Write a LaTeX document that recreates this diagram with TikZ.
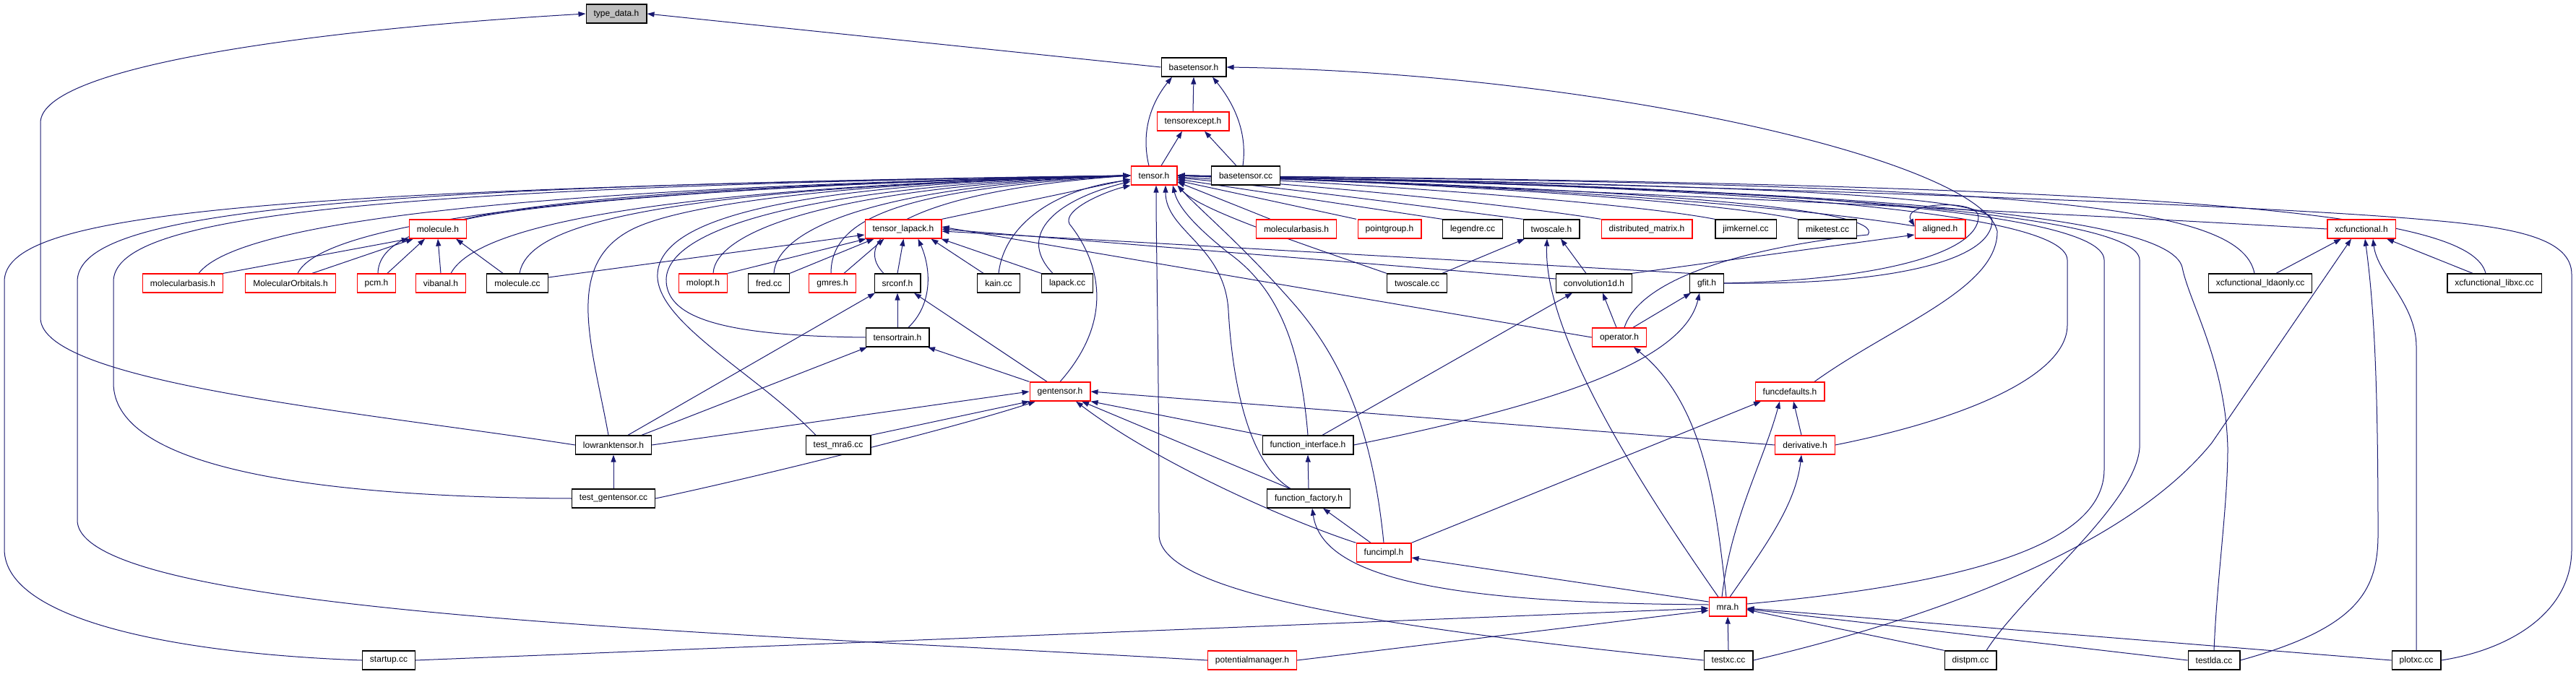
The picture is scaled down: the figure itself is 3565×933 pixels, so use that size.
\documentclass[tikz,border=0pt]{standalone}
\usepackage{fontspec}
\setmainfont{Liberation Sans}
\usetikzlibrary{arrows.meta}
\definecolor{edgeblue}{RGB}{25,25,112}
\definecolor{rootgray}{RGB}{191,191,191}
\pgfdeclarelayer{edges}
\pgfsetlayers{edges,main}
\begin{document}
\begin{tikzpicture}[x=1pt, y=-1pt, font=\fontsize{12}{14}\selectfont,
    >={Triangle[length=10pt,width=7pt]},
    hfile/.style={draw, fill=white, line width=1.3pt, inner xsep=10.5pt, inner ysep=0pt, minimum height=26pt},
    hdr/.style={hfile, draw=black},
    hdrred/.style={hfile, draw=red},
    hdrroot/.style={hfile, draw=black, fill=rootgray},
    dep/.style={->, draw=edgeblue, line width=1pt}]
  \useasboundingbox (0,0) rectangle (3565,933);
  \node[hdrroot] (tdata) at (853,19) {type\_data.h};
  \node[hdr] (btensh) at (1652,93) {basetensor.h};
  \node[hdrred] (texcept) at (1651,168) {tensorexcept.h};
  \node[hdrred] (tensh) at (1597,243) {tensor.h};
  \node[hdr] (btenscc) at (1724,243) {basetensor.cc};
  \node[hdrred] (molech) at (606,317) {molecule.h};
  \node[hdrred] (tlapack) at (1250,317) {tensor\_lapack.h};
  \node[hdrred] (molbasr) at (1794,317) {molecularbasis.h};
  \node[hdrred] (pgroup) at (1923,317) {pointgroup.h};
  \node[hdr] (legendre) at (2038,317) {legendre.cc};
  \node[hdr] (twoscaleh) at (2147,317) {twoscale.h};
  \node[hdrred] (distmat) at (2279,317) {distributed\_matrix.h};
  \node[hdr] (jimkern) at (2416,317) {jimkernel.cc};
  \node[hdr] (miketest) at (2529,317) {miketest.cc};
  \node[hdrred] (aligned) at (2685,317) {aligned.h};
  \node[hdrred] (xcfunc) at (3268,317) {xcfunctional.h};
  \node[hdrred] (molbasl) at (253,392) {molecularbasis.h};
  \node[hdrred] (molorb) at (402,392) {MolecularOrbitals.h};
  \node[hdrred] (pcm) at (521,392) {pcm.h};
  \node[hdrred] (vibanal) at (610,392) {vibanal.h};
  \node[hdr] (molecc) at (716,392) {molecule.cc};
  \node[hdrred] (molopt) at (973,392) {molopt.h};
  \node[hdr] (fred) at (1064,392) {fred.cc};
  \node[hdrred] (gmres) at (1152,392) {gmres.h};
  \node[hdr] (srconf) at (1242,392) {srconf.h};
  \node[hdr] (kain) at (1382,392) {kain.cc};
  \node[hdr] (lapackcc) at (1477,392) {lapack.cc};
  \node[hdr] (twoscalecc) at (1961,392) {twoscale.cc};
  \node[hdr] (conv1d) at (2206,392) {convolution1d.h};
  \node[hdr] (gfit) at (2362,392) {gfit.h};
  \node[hdr] (xclda) at (3128,392) {xcfunctional\_ldaonly.cc};
  \node[hdr] (xclibxc) at (3452,392) {xcfunctional\_libxc.cc};
  \node[hdr] (ttrain) at (1242,467) {tensortrain.h};
  \node[hdrred] (oper) at (2241,467) {operator.h};
  \node[hdrred] (gentens) at (1467,542) {gentensor.h};
  \node[hdrred] (funcdef) at (2477,542) {funcdefaults.h};
  \node[hdr] (lowrank) at (849,616) {lowranktensor.h};
  \node[hdr] (testmra) at (1160,616) {test\_mra6.cc};
  \node[hdr] (funcint) at (1810,616) {function\_interface.h};
  \node[hdrred] (deriv) at (2498,616) {derivative.h};
  \node[hdr] (testgen) at (849,690) {test\_gentensor.cc};
  \node[hdr] (funcfact) at (1811,690) {function\_factory.h};
  \node[hdrred] (funcimpl) at (1915,765) {funcimpl.h};
  \node[hdrred] (mrah) at (2391,840) {mra.h};
  \node[hdr] (startup) at (538,914) {startup.cc};
  \node[hdrred] (potman) at (1733,914) {potentialmanager.h};
  \node[hdr] (testxc) at (2392,914) {testxc.cc};
  \node[hdr] (distpm) at (2727,914) {distpm.cc};
  \node[hdr] (testlda) at (3064,914) {testlda.cc};
  \node[hdr] (plotxc) at (3344,914) {plotxc.cc};
  \begin{pgfonlayer}{edges}
  \draw[dep] (btensh.west) -- (tdata.east);
  \draw[dep] (lowrank.west) .. controls (500,570) and (56,530) .. (56,440) -- (56,170) .. controls (56,90) and (450,40) .. (tdata.west);
  \draw[dep] ([xshift=-7pt]tensh.north) .. controls (1578,180) and (1595,140) .. ([xshift=-30pt]btensh.south);
  \draw[dep] (texcept.north) -- (btensh.south);
  \draw[dep] ([xshift=-4pt]btenscc.north) .. controls (1727,180) and (1705,140) .. ([xshift=26pt]btensh.south);
  \draw[dep] ([xshift=34pt]funcdef.north) .. controls (2620,450) and (2765,400) .. (2764,320) .. controls (2740,220) and (2200,100) .. (btensh.east);
  \draw[dep] ([xshift=10pt]tensh.north) -- ([xshift=-15pt]texcept.south);
  \draw[dep] ([xshift=-13pt]btenscc.north) -- ([xshift=16pt]texcept.south);
  \draw[dep] (molbasl.north east) -- (molech.south west);
  \draw[dep] ([xshift=30pt]molorb.north) -- ([xshift=-34pt]molech.south);
  \draw[dep] ([xshift=15pt]pcm.north) -- ([xshift=-18pt]molech.south);
  \draw[dep] (vibanal.north) -- (molech.south);
  \draw[dep] ([xshift=-20pt]molecc.north) -- ([xshift=25pt]molech.south);
  \draw[dep] ([yshift=8pt]molecc.east) -- ([yshift=-8pt]tlapack.west);
  \draw[dep] (molopt.north east) -- ([xshift=2pt]tlapack.south west);
  \draw[dep] (fred.north east) -- ([xshift=13pt]tlapack.south west);
  \draw[dep] ([xshift=16pt]gmres.north) -- ([xshift=27pt]tlapack.south west);
  \draw[dep] (srconf.north) -- ([xshift=54pt]tlapack.south west);
  \draw[dep] ([xshift=15pt]ttrain.north) .. controls (1292,420) and (1288,370) .. ([xshift=74pt]tlapack.south west);
  \draw[dep] ([xshift=-21pt]kain.north) -- ([xshift=92pt]tlapack.south west);
  \draw[dep] (lapackcc.north west) -- ([xshift=106pt]tlapack.south west);
  \draw[dep] (gfit.north west) -- ([yshift=-3pt]tlapack.east);
  \draw[dep] ([yshift=6pt]conv1d.west) -- (tlapack.east);
  \draw[dep] (oper.west) -- ([yshift=3pt]tlapack.east);
  \draw[dep] (startup.west) .. controls (250,905) and (6,860) .. (6,760) -- (6,390) .. controls (6,300) and (300,262) .. (tensh.west);
  \draw[dep] (potman.west) .. controls (1000,875) and (107,850) .. (107,720) -- (107,390) .. controls (107,300) and (400,258) .. (tensh.west);
  \draw[dep] (testgen.west) .. controls (400,688) and (157,640) .. (157,530) -- (157,390) .. controls (157,305) and (450,260) .. (tensh.west);
  \draw[dep] ([xshift=22pt]molbasl.north) .. controls (320,320) and (600,262) .. (tensh.west);
  \draw[dep] ([xshift=10pt]molorb.north) .. controls (440,320) and (700,262) .. (tensh.west);
  \draw[dep] ([xshift=2pt]pcm.north) .. controls (525,300) and (720,262) .. (tensh.west);
  \draw[dep] ([xshift=14pt]vibanal.north) .. controls (650,330) and (800,262) .. (tensh.west);
  \draw[dep] ([xshift=3pt]molecc.north) .. controls (730,320) and (850,262) .. (tensh.west);
  \draw[dep] (molech.north east) .. controls (750,280) and (1100,252) .. (tensh.west);
  \draw[dep] ([xshift=-7pt]lowrank.north) .. controls (820,480) and (780,370) .. (870,320) .. controls (950,275) and (1250,250) .. (tensh.west);
  \draw[dep] ([xshift=-31pt]testmra.north) .. controls (1050,520) and (915,450) .. (910,385) .. controls (905,300) and (1100,255) .. (tensh.west);
  \draw[dep] (ttrain.west) .. controls (1000,465) and (925,440) .. (922,390) .. controls (918,310) and (1150,255) .. (tensh.west);
  \draw[dep] ([xshift=14pt]molopt.north) .. controls (990,320) and (1150,258) .. (tensh.west);
  \draw[dep] ([xshift=7pt]fred.north) .. controls (1075,320) and (1200,258) .. (tensh.west);
  \draw[dep] ([xshift=-2pt]gmres.north) .. controls (1150,300) and (1250,262) .. (tensh.west);
  \draw[dep] ([xshift=-19pt]srconf.north) .. controls (1175,330) and (1260,265) .. (tensh.west);
  \draw[dep] (tlapack.north east) -- ([yshift=-5pt]tensh.west);
  \draw[dep] (kain.north) .. controls (1390,310) and (1460,262) .. ([yshift=-6pt]tensh.west);
  \draw[dep] ([xshift=-20pt]lapackcc.north) .. controls (1410,330) and (1450,280) .. ([yshift=-8pt]tensh.west);
  \draw[dep] (gentens.north) .. controls (1545,440) and (1520,360) .. (1480,310) .. controls (1470,290) and (1530,265) .. (tensh.south west);
  \draw[dep] (testxc.west) .. controls (1900,868) and (1604,820) .. (1604,740) .. controls (1604,500) and (1600,350) .. ([xshift=3pt]tensh.south);
  \draw[dep] ([xshift=-25pt]funcfact.north) .. controls (1725,640) and (1705,520) .. (1700,430) .. controls (1695,340) and (1613,320) .. ([xshift=16pt]tensh.south);
  \draw[dep] (funcint.north) .. controls (1800,480) and (1770,400) .. (1700,350) .. controls (1650,310) and (1630,285) .. ([xshift=26pt]tensh.south);
  \draw[dep] (funcimpl.north) .. controls (1900,600) and (1860,500) .. (1790,420) .. controls (1720,340) and (1660,290) .. (tensh.south east);
  \draw[dep] (twoscalecc.north west) .. controls (1780,330) and (1660,290) .. (tensh.south east);
  \draw[dep] ([xshift=-36pt]molbasr.north) -- ([yshift=-9pt]tensh.east);
  \draw[dep] ([xshift=-46pt]pgroup.north) -- ([yshift=-7pt]tensh.east);
  \draw[dep] (legendre.north west) -- ([yshift=-5pt]tensh.east);
  \draw[dep] (twoscaleh.north west) .. controls (2000,290) and (1800,262) .. ([yshift=-3pt]tensh.east);
  \draw[dep] (distmat.north west) .. controls (2100,285) and (1850,258) .. ([yshift=-2pt]tensh.east);
  \draw[dep] (jimkern.north west) .. controls (2250,280) and (1900,255) .. (tensh.east);
  \draw[dep] (miketest.north west) .. controls (2350,275) and (1950,252) .. (tensh.east);
  \draw[dep] ([yshift=4pt]aligned.west) .. controls (2450,280) and (2000,252) .. (tensh.east);
  \draw[dep] (xcfunc.west) .. controls (2800,292) and (2000,255) .. (tensh.east);
  \draw[dep] ([xshift=-8pt]xclda.north) .. controls (3100,280) and (2800,255) .. (tensh.east);
  \draw[dep] ([xshift=-12pt]xclibxc.north) .. controls (3420,300) and (3100,255) .. (tensh.east);
  \draw[dep] (plotxc.east) .. controls (3470,900) and (3559,850) .. (3559,760) -- (3559,380) .. controls (3559,330) and (3480,315) .. (3366,305) .. controls (3100,280) and (2200,252) .. (tensh.east);
  \draw[dep] (testlda.north) .. controls (3068,800) and (3083,700) .. (3083,620) .. controls (3080,500) and (3030,420) .. (3020,370) .. controls (3000,290) and (2500,262) .. (tensh.east);
  \draw[dep] ([xshift=22pt]distpm.north) .. controls (2800,820) and (2955,700) .. (2961,620) -- (2961,360) .. controls (2961,290) and (2400,258) .. (tensh.east);
  \draw[dep] ([yshift=4pt]mrah.east) .. controls (2700,810) and (2912,760) .. (2912,650) -- (2912,360) .. controls (2912,285) and (2350,255) .. (tensh.east);
  \draw[dep] (deriv.east) .. controls (2720,580) and (2861,520) .. (2861,450) -- (2861,360) .. controls (2861,285) and (2300,255) .. (tensh.east);
  \draw[dep] ([xshift=7pt]oper.north) .. controls (2275,370) and (2480,335) .. (2585,325) .. controls (2610,290) and (2300,262) .. (tensh.east);
  \draw[dep] (gfit.east) .. controls (2620,395) and (2757,360) .. (2757,305) .. controls (2757,265) and (2300,255) .. (tensh.east);
  \draw[dep] (gfit.east) .. controls (2600,388) and (2738,350) .. (2738,300) .. controls (2738,275) and (2630,280) .. ([yshift=4pt]aligned.west);
  \draw[dep] (conv1d.north east) -- ([yshift=-8pt]aligned.west);
  \draw[dep] ([xshift=-11pt]conv1d.north) -- ([xshift=13pt]twoscaleh.south);
  \draw[dep] ([xshift=35pt]twoscalecc.north) -- ([xshift=-37pt]twoscaleh.south);
  \draw[dep] ([xshift=-13pt]mrah.north) .. controls (2290,700) and (2135,470) .. ([xshift=-6pt]twoscaleh.south);
  \draw[dep] ([xshift=-4pt]oper.north) -- ([xshift=12pt]conv1d.south);
  \draw[dep] ([xshift=20pt]funcint.north) -- ([xshift=-30pt]conv1d.south);
  \draw[dep] ([xshift=19pt]oper.north) -- ([xshift=-22pt]gfit.south);
  \draw[dep] (funcint.east) .. controls (2150,560) and (2330,500) .. ([xshift=-10pt]gfit.south);
  \draw[dep] ([xshift=-2pt]mrah.north) .. controls (2375,700) and (2360,560) .. ([xshift=20pt]oper.south);
  \draw[dep] ([xshift=20pt]lowrank.north) -- ([xshift=-31pt]srconf.south);
  \draw[dep] ([xshift=39pt]lowrank.north) -- ([xshift=-42pt]ttrain.south);
  \draw[dep] (ttrain.north) -- (srconf.south);
  \draw[dep] ([xshift=-18pt]gentens.north) -- ([xshift=23pt]srconf.south);
  \draw[dep] (gentens.north west) -- ([xshift=42pt]ttrain.south);
  \draw[dep] (lowrank.east) -- (gentens.west);
  \draw[dep] (testmra.north east) -- (gentens.south west);
  \draw[dep] (testgen.east) .. controls (1050,660) and (1330,590) .. ([xshift=-34pt]gentens.south);
  \draw[dep] (testgen.north) -- (lowrank.south);
  \draw[dep] (funcint.north west) -- (gentens.south east);
  \draw[dep] ([xshift=-26pt]funcfact.north) -- ([xshift=30pt]gentens.south);
  \draw[dep] (funcimpl.north west) .. controls (1780,720) and (1600,640) .. ([xshift=22pt]gentens.south);
  \draw[dep] (deriv.west) -- (gentens.east);
  \draw[dep] (funcfact.north) -- (funcint.south);
  \draw[dep] ([xshift=-18pt]funcimpl.north) -- ([xshift=20pt]funcfact.south);
  \draw[dep] ([yshift=3pt]mrah.west) .. controls (2000,835) and (1830,800) .. ([xshift=5pt]funcfact.south);
  \draw[dep] ([yshift=7pt]mrah.west) -- ([yshift=-7pt]funcimpl.east);
  \draw[dep] (funcimpl.north east) -- ([xshift=-40pt]funcdef.south);
  \draw[dep] ([xshift=-5pt]deriv.north) -- ([xshift=5pt]funcdef.south);
  \draw[dep] ([xshift=-8pt]mrah.north) .. controls (2395,720) and (2440,640) .. ([xshift=-14pt]funcdef.south);
  \draw[dep] ([xshift=3pt]mrah.north) .. controls (2440,760) and (2485,700) .. ([xshift=-5pt]deriv.south);
  \draw[dep] (startup.east) -- ([yshift=-2pt]mrah.west);
  \draw[dep] (potman.east) -- ([yshift=-5pt]mrah.west);
  \draw[dep] (testxc.north) -- (mrah.south);
  \draw[dep] (distpm.north west) -- ([yshift=-4pt]mrah.east);
  \draw[dep] (testlda.west) -- ([yshift=-3pt]mrah.east);
  \draw[dep] (plotxc.west) -- ([yshift=-2pt]mrah.east);
  \draw[dep] (testxc.east) .. controls (2700,850) and (2950,750) .. (3061,613) -- ([xshift=-14pt]xcfunc.south);
  \draw[dep] (testlda.east) .. controls (3260,870) and (3291,820) .. (3291,740) .. controls (3291,520) and (3285,420) .. ([xshift=5pt]xcfunc.south);
  \draw[dep] (plotxc.north) -- (3344,480) .. controls (3344,420) and (3290,380) .. ([xshift=16pt]xcfunc.south);
  \draw[dep] ([xshift=22pt]xclda.north) -- ([xshift=-28pt]xcfunc.south);
  \draw[dep] ([xshift=-30pt]xclibxc.north) -- ([xshift=35pt]xcfunc.south);
  \end{pgfonlayer}
\end{tikzpicture}
\end{document}
